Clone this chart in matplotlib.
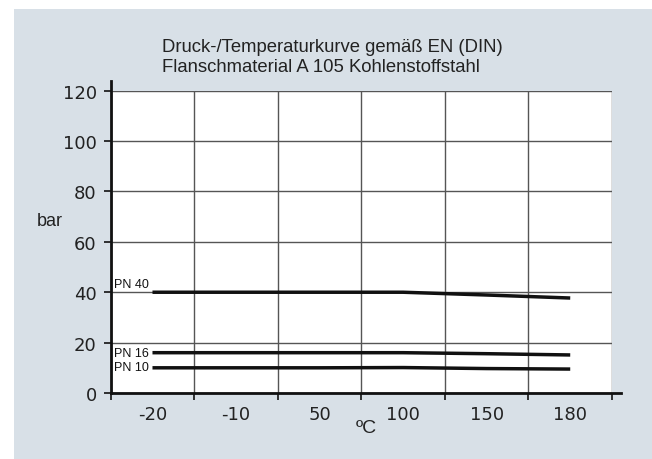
import matplotlib
matplotlib.use("Agg")
import matplotlib.pyplot as plt
from matplotlib.patches import Rectangle

# temperature categories (evenly spaced on the axis)
temps = ["-20", "-10", "50", "100", "150", "180"]
# pressure ratings in bar for each temperature
pn40 = [40, 40, 40, 40, 38.9, 37.7]
pn16 = [16, 16, 16, 16, 15.6, 15.1]
pn10 = [10, 10, 10, 10.1, 9.7, 9.5]
series_names = ["PN 40", "PN 16", "PN 10"]
y_ticks = [0, 20, 40, 60, 80, 100, 120]

plt.rcParams['font.family'] = ['Liberation Sans', 'DejaVu Sans']

fig = plt.figure(figsize=(6.52, 4.60), dpi=100)
fig.patch.set_facecolor('white')
# light grey-blue panel behind the chart
fig.patches.append(Rectangle((14 / 652, 0), 1, 450 / 460, transform=fig.transFigure,
                             facecolor='#d8e0e7', edgecolor='none', zorder=-10))

ax = fig.add_axes([110.7 / 652, 66 / 460, 501.3 / 652, 302.3 / 460])
ax.set_facecolor('white')

x = [i + 0.5 for i in range(len(temps))]
for vals in (pn40, pn16, pn10):
    ax.plot(x, vals, color='#111111', lw=2.5, solid_capstyle='butt', zorder=3)

ax.set_xlim(0, len(temps))
ax.set_ylim(0, 120)

# column borders as major ticks, labels in the middle of each column
tick_font = dict(family='DejaVu Sans', size=13)
ax.set_xticks(range(len(temps) + 1))
ax.set_xticklabels([])
ax.set_xticks(x, minor=True)
ax.set_xticklabels(temps, minor=True, fontdict=tick_font)
ax.tick_params(axis='x', which='major', direction='out', length=5, width=1.3, color='#222222')
ax.tick_params(axis='x', which='minor', length=0, pad=9, labelcolor='#222222')
ax.set_yticks(y_ticks)
ax.set_yticklabels([str(v) for v in y_ticks], fontdict=tick_font, color='#222222')
ax.tick_params(axis='y', direction='out', length=5, width=1.3, pad=5, color='#222222')

ax.grid(True, which='major', color='#555555', lw=1.0)
for side in ['top', 'right', 'left', 'bottom']:
    ax.spines[side].set_visible(False)

# axes drawn a bit beyond the plot area
ax.plot([0, 0], [0, 1.033], transform=ax.transAxes, color='#111111', lw=2, clip_on=False, zorder=4)
ax.plot([0, 1.018], [0, 0], transform=ax.transAxes, color='#111111', lw=2, clip_on=False, zorder=4)

# series labels on the left
ax.text(0.04, 40.8, series_names[0], fontsize=9, va='bottom', ha='left', color='#111111')
ax.text(0.04, 16, series_names[1], fontsize=9, va='center', ha='left', color='#111111',
        bbox=dict(facecolor='white', edgecolor='none', pad=0.3))
ax.text(0.04, 10.3, series_names[2], fontsize=9, va='center', ha='left', color='#111111',
        bbox=dict(facecolor='white', edgecolor='none', pad=0.3))

fig.text(162 / 652, 1 - 47 / 460, "Druck-/Temperaturkurve gemäß EN (DIN)", fontsize=13.3,
         va='center', ha='left', color='#222222')
fig.text(162 / 652, 1 - 68 / 460, "Flanschmaterial A 105 Kohlenstoffstahl", fontsize=13.3,
         va='center', ha='left', color='#222222')
fig.text(50 / 652, 1 - 222 / 460, "bar", fontsize=13, va='center', ha='center', color='#222222')
fig.text(366 / 652, 1 - 429 / 460, "ºC", fontsize=14, va='center', ha='center', color='#222222')

fig.savefig('out.png', dpi=100)
